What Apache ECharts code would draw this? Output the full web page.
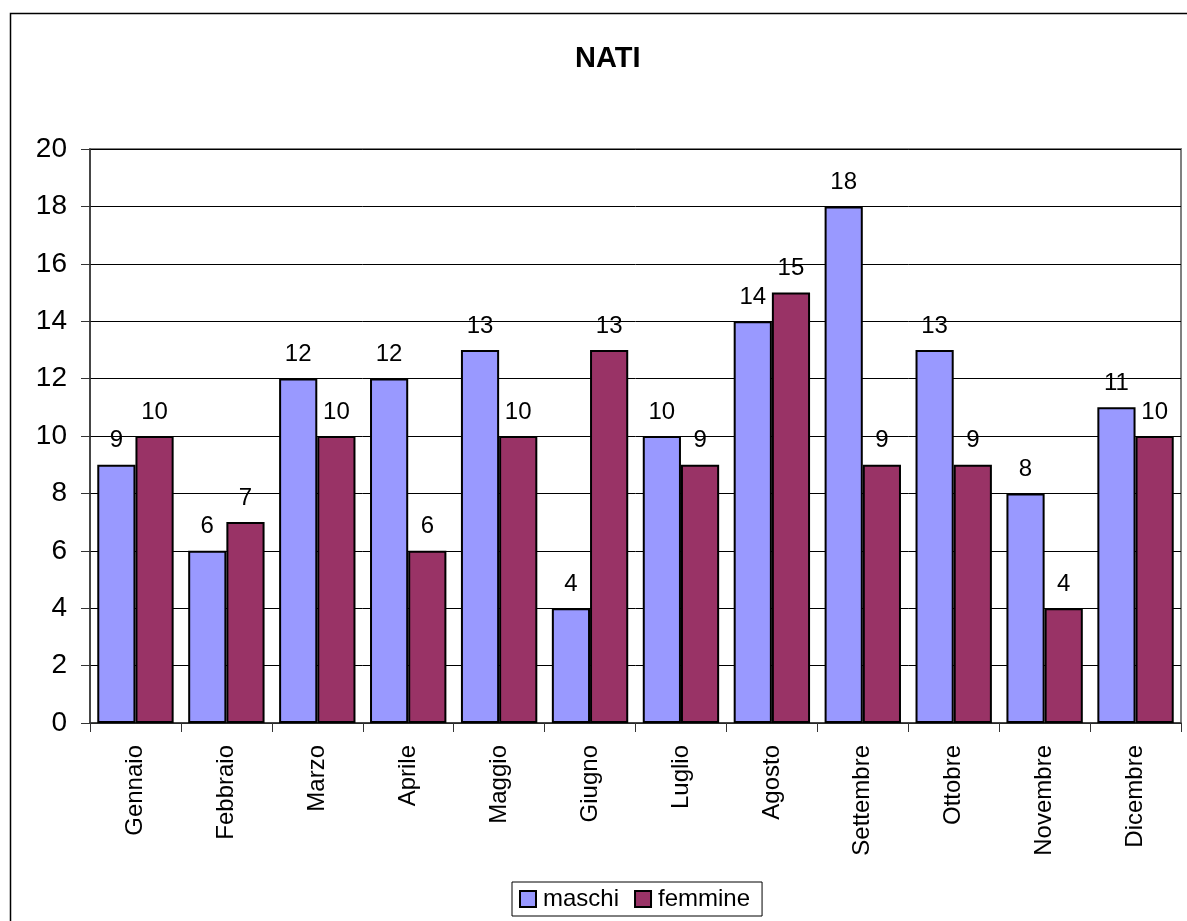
<!DOCTYPE html>
<html>
<head>
<meta charset="utf-8">
<script src="https://cdn.jsdelivr.net/npm/echarts@6/dist/echarts.min.js"></script>
<style>
html,body{margin:0;padding:0;background:#fff;}
#chart{width:1187px;height:921px;}
</style>
</head>
<body>
<div id="chart"></div>
<script>
const categories = ['Gennaio','Febbraio','Marzo','Aprile','Maggio','Giugno','Luglio','Agosto','Settembre','Ottobre','Novembre','Dicembre'];
const maschi = [9,6,12,12,13,4,10,14,18,13,8,11];
const femmine = [10,7,10,6,10,13,9,15,9,9,4,10];
const titleText = 'NATI';
const seriesNames = ['maschi','femmine'];

const FONT = '"Liberation Sans", Arial, sans-serif';
const chart = echarts.init(document.getElementById('chart'));
const labelCfg = {show:true, position:'top', distance:12, color:'#000', fontSize:24, fontFamily:FONT};
chart.setOption({
  animation:false,
  backgroundColor:'#fff',
  textStyle:{fontFamily:FONT},
  graphic:[{type:'rect', left:8, top:11, shape:{x:0,y:0,width:1200,height:930}, style:{fill:'none', stroke:'#000', lineWidth:1.5}, silent:true, z:-1}],
  title:{text:titleText, left:570, top:39, textStyle:{fontSize:29, fontWeight:'bold', color:'#000', fontFamily:FONT}},
  legend:{
    data:seriesNames, left:512, top:882, orient:'horizontal',
    borderColor:'#000', borderWidth:1, padding:[5,12,5,7], itemGap:15,
    itemWidth:16, itemHeight:16, icon:'rect',
    textStyle:{fontSize:24, color:'#000', fontFamily:FONT, padding:[0,0,0,2]}
  },
  grid:{left:90, top:149, right:6, bottom:198, show:true, borderColor:'#808080', borderWidth:2, containLabel:false},
  xAxis:{
    type:'category', data:categories,
    axisLine:{lineStyle:{color:'#333', width:1.5}},
    axisTick:{show:true, length:9, alignWithLabel:false, lineStyle:{color:'#333'}},
    axisLabel:{rotate:90, fontSize:24, color:'#000', margin:22, fontFamily:FONT, interval:0}
  },
  yAxis:{
    type:'value', min:0, max:20, interval:2,
    axisLine:{show:true, lineStyle:{color:'#333', width:1.5}},
    axisTick:{show:true, length:9, lineStyle:{color:'#333'}},
    axisLabel:{fontSize:28, color:'#000', margin:23, fontFamily:FONT},
    splitLine:{show:true, lineStyle:{color:'#000', width:1}}
  },
  series:[
    {name:seriesNames[0], type:'bar', data:maschi, barWidth:'42%', barGap:'0%',
     itemStyle:{color:'#9999FF', borderColor:'#000', borderWidth:2}, label:labelCfg},
    {name:seriesNames[1], type:'bar', data:femmine, barWidth:'42%', barGap:'0%',
     itemStyle:{color:'#993366', borderColor:'#000', borderWidth:2}, label:labelCfg}
  ]
});
</script>
</body>
</html>
